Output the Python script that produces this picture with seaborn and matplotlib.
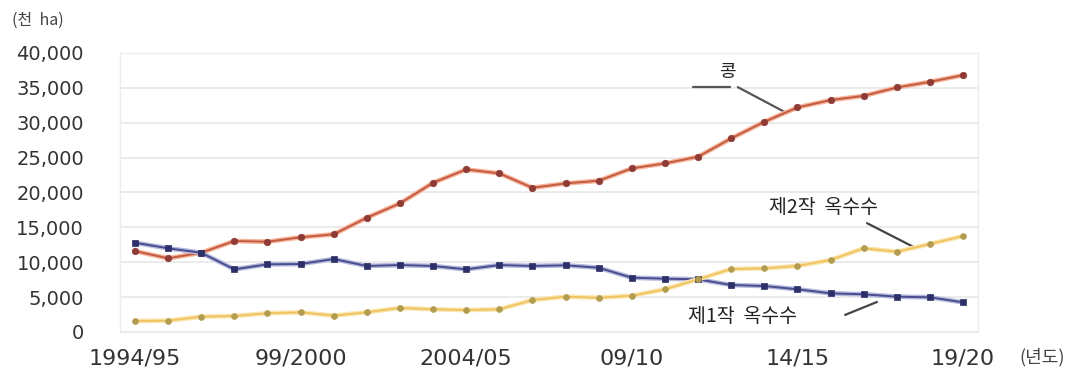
import matplotlib
matplotlib.use("Agg")
import matplotlib.pyplot as plt
import matplotlib.patheffects as pe
from matplotlib.ticker import FuncFormatter, MultipleLocator
import numpy as np
import pandas as pd
import seaborn as sns

# Crop years 1994/95 .. 2019/20
seasons = [f"{y}/{str(y + 1)[-2:]}" for y in range(1994, 2020)]
tick_labels = ["1994/95", "99/2000", "2004/05", "09/10", "14/15", "19/20"]
tick_index = [0, 5, 10, 15, 20, 25]

# Planted area (thousand ha)
soybean = [11600, 10560, 11360, 13040, 12940, 13570, 14000, 16380, 18440, 21390,
           23300, 22740, 20670, 21300, 21680, 23450, 24170, 25120, 27750, 30130,
           32190, 33240, 33850, 35050, 35860, 36820]
corn_first = [12800, 12000, 11360, 8980, 9700, 9740, 10460, 9460, 9600, 9460,
              8980, 9600, 9460, 9560, 9210, 7780, 7640, 7550, 6730, 6590,
              6120, 5540, 5400, 5060, 4970, 4250]
corn_second = [1580, 1620, 2190, 2290, 2680, 2820, 2340, 2820, 3450, 3250,
               3150, 3250, 4580, 5060, 4910, 5200, 6120, 7550, 9030, 9120,
               9460, 10320, 12000, 11500, 12610, 13750]

series_names = ["콩", "제1작 옥수수", "제2작 옥수수"]

df = pd.DataFrame({
    "idx": np.tile(np.arange(len(seasons)), 3),
    "area": soybean + corn_first + corn_second,
    "crop": np.repeat(series_names, len(seasons)),
})

sns.set_style("white")
plt.rcParams["font.family"] = ["DejaVu Sans", "Noto Sans CJK KR"]
kr = ["Noto Sans CJK KR", "DejaVu Sans"]

fig = plt.figure(figsize=(10.84, 3.73), dpi=100)
ax = fig.add_axes([0.1107, 0.110, 0.7915, 0.748])

styles = {
    "콩": dict(line="#c35a42", halo="#f6b49a", marker="o", mcolor="#8e3a35", ms=22),
    "제1작 옥수수": dict(line="#474d8e", halo="#b4b8dc", marker="s", mcolor="#2b3068", ms=22),
    "제2작 옥수수": dict(line="#efc360", halo="#fbe6b0", marker="o", mcolor="#b39c50", ms=18),
}

for name in series_names:
    st = styles[name]
    sub = df[df["crop"] == name]
    sns.lineplot(data=sub, x="idx", y="area", ax=ax, color=st["line"], lw=1.4,
                 path_effects=[pe.Stroke(linewidth=3.4, foreground=st["halo"]), pe.Normal()],
                 zorder=3)
    sns.scatterplot(data=sub, x="idx", y="area", ax=ax, marker=st["marker"], s=st["ms"],
                    color=st["mcolor"], edgecolor=st["mcolor"], linewidth=0.5, zorder=4)

ax.set_xlim(-0.45, 25.45)
ax.set_ylim(0, 40000)
ax.yaxis.set_major_locator(MultipleLocator(5000))
ax.yaxis.set_major_formatter(FuncFormatter(lambda v, p: f"{int(v):,}"))
ax.set_xticks(tick_index)
ax.set_xticklabels(tick_labels)
ax.tick_params(axis="y", labelsize=14, colors="#333333", length=0, pad=26)
ax.tick_params(axis="x", labelsize=16, colors="#333333", length=0, pad=12)
ax.grid(axis="y", color="#e8e8e8", lw=1.2)
ax.set_axisbelow(True)
ax.set_xlabel("")
ax.set_ylabel("")
for s in ax.spines.values():
    s.set_color("#ededed")
    s.set_linewidth(1.0)

# Unit labels
fig.text(0.011, 0.945, "(천  ha)", fontsize=11.5, family=kr, color="#444444", va="center")
fig.text(0.940, 0.043, "(년도)", fontsize=13, family=kr, color="#444444", va="center")

# Series labels with leader lines
ax.text(17.9, 37300, "콩", fontsize=13, family=kr, ha="center", va="center", color="#222222")
ax.plot([16.85, 17.96], [35100, 35100], color="#555555", lw=1.6, zorder=2)
ax.plot([18.2, 19.63], [35100, 31500], color="#555555", lw=1.6, zorder=2)

ax.text(20.8, 17800, "제2작  옥수수", fontsize=14, family=kr, ha="center", va="center", color="#222222")
ax.plot([22.1, 23.5], [15600, 12200], color="#444444", lw=1.6, zorder=2)

ax.text(18.35, 2150, "제1작  옥수수", fontsize=14, family=kr, ha="center", va="center", color="#222222")
ax.plot([21.44, 22.4], [2450, 4300], color="#444444", lw=1.6, zorder=2)

fig.savefig("out.png", dpi=100, facecolor="white")
